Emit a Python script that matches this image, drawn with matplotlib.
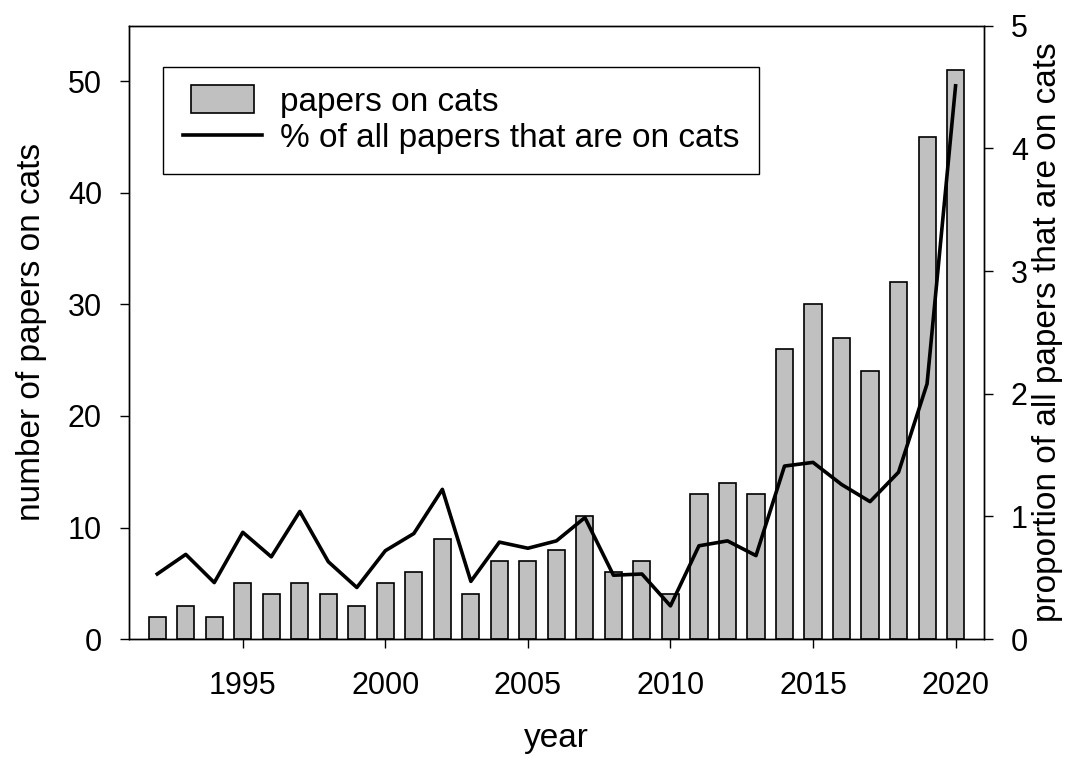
import matplotlib
matplotlib.use("Agg")
import matplotlib.pyplot as plt
from matplotlib.patches import Patch, Rectangle
from matplotlib.lines import Line2D
from matplotlib.legend_handler import HandlerPatch

plt.rcParams['font.family'] = ['Liberation Sans', 'DejaVu Sans']

years = list(range(1992, 2021))
papers_on_cats = [2, 3, 2, 5, 4, 5, 4, 3, 5, 6, 9, 4, 7, 7, 8, 11, 6, 7, 4,
                  13, 14, 13, 26, 30, 27, 24, 32, 45, 51]
percent_on_cats = [0.53, 0.69, 0.46, 0.87, 0.67, 1.04, 0.63, 0.42, 0.72, 0.86,
                   1.22, 0.47, 0.79, 0.74, 0.80, 0.99, 0.52, 0.53, 0.27, 0.76,
                   0.80, 0.68, 1.41, 1.44, 1.26, 1.12, 1.36, 2.08, 4.51]
x_ticks = [1995, 2000, 2005, 2010, 2015, 2020]
left_ticks = [0, 10, 20, 30, 40, 50]
right_ticks = [0, 1, 2, 3, 4, 5]

fig = plt.figure(figsize=(10.91, 7.61), dpi=100)
ax = fig.add_axes([0.118, 0.1603, 0.784, 0.8059])
ax2 = ax.twinx()

ax.bar(years, papers_on_cats, width=0.6, color='#c0c0c0', edgecolor='black',
       linewidth=1.2, zorder=2)
ax2.plot(years, percent_on_cats, color='black', linewidth=2.6, zorder=3)

ax.set_xlim(1991, 2021)
ax.set_ylim(0, 55)
ax2.set_ylim(0, 5)
ax.set_xticks(x_ticks)
ax.set_yticks(left_ticks)
ax2.set_yticks(right_ticks)

for a in (ax, ax2):
    for s in a.spines.values():
        s.set_linewidth(1.0)
    a.tick_params(direction='out', length=6.8, width=1.0, labelsize=22)
ax.tick_params(axis='x', pad=16)
ax.tick_params(axis='y', pad=12.5)
ax2.tick_params(axis='y', pad=12.5)

ax.set_xlabel('year', fontsize=24, labelpad=16)
ax.set_ylabel('number of papers on cats', fontsize=24, labelpad=15)
ax2.set_ylabel('proportion of all papers that are on cats', fontsize=24, labelpad=3)


def narrow_patch(legend, orig_handle, xdescent, ydescent, width, height, fontsize):
    w = 0.8 * width
    h = 20.0
    return Rectangle((-xdescent + (width - w) / 2, -ydescent + height / 2 - h / 2), w, h)


handles = [Patch(facecolor='#c0c0c0', edgecolor='black', linewidth=1.2),
           Line2D([], [], color='black', linewidth=2.6)]
labels = ['papers on cats', '% of all papers that are on cats']
leg = ax2.legend(handles, labels, loc='upper left', bbox_to_anchor=(0.040, 0.933),
                 borderaxespad=0, fontsize=24, frameon=True, fancybox=False,
                 edgecolor='black', framealpha=1, handlelength=2.37,
                 handletextpad=0.54, labelspacing=0.16, borderpad=0.6,
                 handler_map={Patch: HandlerPatch(patch_func=narrow_patch)})
leg.get_frame().set_linewidth(1.0)

fig.savefig('out.png', dpi=100)
